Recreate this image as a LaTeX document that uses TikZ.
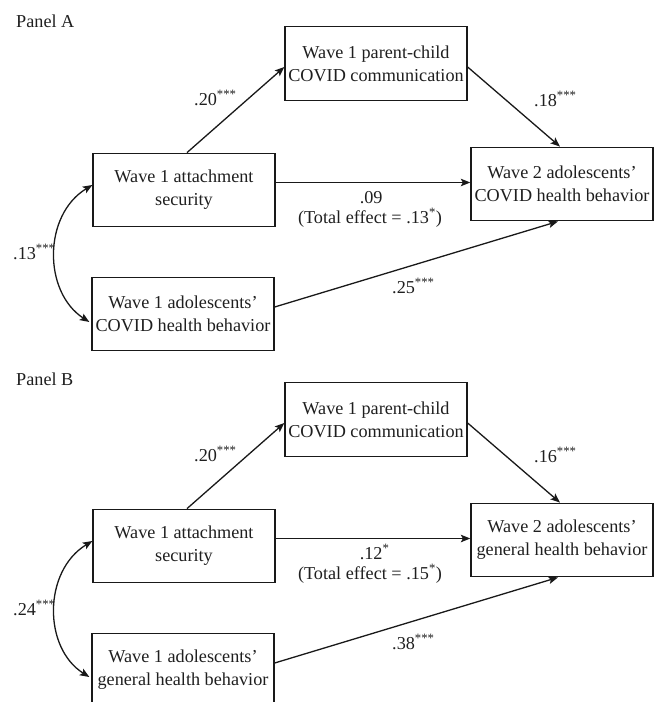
\documentclass[tikz,border=0pt]{standalone}
\usepackage{fontspec}
\setmainfont{Liberation Serif}
\usetikzlibrary{arrows.meta,calc}
\begin{document}
\begin{tikzpicture}[x=1pt,y=-1pt,
  every node/.style={font=\fontsize{18.2}{23}\selectfont, text=black!88},
  box/.style={draw=black!90, line width=1.3pt, minimum width=182pt, minimum height=73.5pt, inner sep=0pt, align=center},
  lbl/.style={inner sep=0pt},
  tip/.tip={Stealth[length=9.5pt,width=7.5pt,inset=2pt]},
  arr/.style={draw=black!90, line width=1.3pt, -tip},
  dbl/.style={draw=black!90, line width=1.3pt, tip-tip}]
\clip (0,0) rectangle (663,702);
% ---------------- Panel A ----------------
\node[lbl, anchor=base west] (pA) at (16,27) {Panel A};
\node[box] (medA) at (376,63.5) {Wave 1 parent-child\\COVID communication};
\node[box] (XA) at (184,190) {Wave 1 attachment\\security};
\node[box] (YA) at (562,184) {Wave 2 adolescents'\\COVID health behavior};
\node[box] (CA) at (183,314) {Wave 1 adolescents'\\COVID health behavior};
\draw[arr] ([xshift=3pt]XA.north) -- ([yshift=-3.5pt]medA.west);
\draw[arr] ([yshift=-3.5pt]medA.east) -- ([xshift=-2pt]YA.north);
\draw[arr] ([yshift=7.5pt]XA.east) -- ([yshift=7.5pt]XA.east -| YA.west);
\draw[arr] ([yshift=7pt]CA.east) -- ([xshift=-4pt]YA.south);
\draw[dbl] ([yshift=5pt]XA.west) .. controls (43,215) and (43,292) .. ([xshift=-2pt,yshift=-8pt]CA.west);
\node[lbl, anchor=base west] (aA) at (194,105) {.20\textsuperscript{***}};
\node[lbl, anchor=base west] (bA) at (534,106) {.18\textsuperscript{***}};
\node[lbl, anchor=base west] (cA) at (359.6,203) {.09};
\node[lbl, anchor=base] (tA) at (370,223) {(Total effect = .13\textsuperscript{*})};
\node[lbl, anchor=base west] (dA) at (392,293) {.25\textsuperscript{***}};
\node[lbl, anchor=base west] (rA) at (13,259) {.13\textsuperscript{***}};
% ---------------- Panel B ----------------
\node[lbl, anchor=base west] (pB) at (16,385) {Panel B};
\node[box] (medB) at (376,419.5) {Wave 1 parent-child\\COVID communication};
\node[box] (XB) at (184,546) {Wave 1 attachment\\security};
\node[box] (YB) at (562,540) {Wave 2 adolescents'\\general health behavior};
\node[box] (CB) at (183,670) {Wave 1 adolescents'\\general health behavior};
\draw[arr] ([xshift=3pt]XB.north) -- ([yshift=-3.5pt]medB.west);
\draw[arr] ([yshift=-3.5pt]medB.east) -- ([xshift=-2pt]YB.north);
\draw[arr] ([yshift=7.5pt]XB.east) -- ([yshift=7.5pt]XB.east -| YB.west);
\draw[arr] ([yshift=7pt]CB.east) -- ([xshift=-4pt]YB.south);
\draw[dbl] ([yshift=5pt]XB.west) .. controls (43,571) and (43,648) .. ([xshift=-2pt,yshift=-7pt]CB.west);
\node[lbl, anchor=base west] (aB) at (194,461) {.20\textsuperscript{***}};
\node[lbl, anchor=base west] (bB) at (534,462) {.16\textsuperscript{***}};
\node[lbl, anchor=base west] (cB) at (359.6,559) {.12\textsuperscript{*}};
\node[lbl, anchor=base] (tB) at (370,579) {(Total effect = .15\textsuperscript{*})};
\node[lbl, anchor=base west] (dB) at (392,649) {.38\textsuperscript{***}};
\node[lbl, anchor=base west] (rB) at (13,615) {.24\textsuperscript{***}};
\end{tikzpicture}
\end{document}
